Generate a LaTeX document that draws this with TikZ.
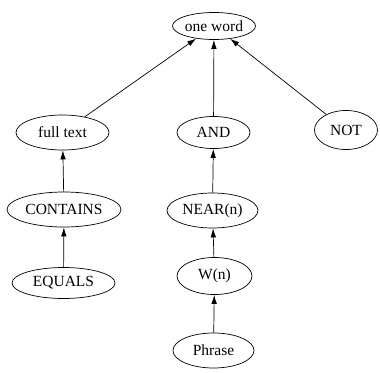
\documentclass[tikz,border=0pt]{standalone}
\usepackage{fontspec}
\setmainfont{Liberation Serif}
\usetikzlibrary{shapes.geometric,arrows.meta}
\begin{document}
\begin{tikzpicture}[x=1pt,y=1pt,
  ell/.style={draw,ellipse,inner sep=0pt,line width=0.7pt,font=\fontsize{15.5}{18}\selectfont},
  edge/.style={line width=0.7pt,-{Latex[length=9pt,width=5.5pt]}}]
\useasboundingbox (0,0) rectangle (380,-372);
\node[ell,minimum width=83pt,minimum height=27pt] (one) at (214,-26) {one word};
\node[ell,minimum width=93pt,minimum height=35pt] (full) at (62.5,-132.5) {full text};
\node[ell,minimum width=73pt,minimum height=32pt] (and) at (213.5,-132.5) {AND};
\node[ell,minimum width=63pt,minimum height=39pt] (not) at (346,-130) {NOT};
\node[ell,minimum width=114pt,minimum height=35pt] (contains) at (64,-209.5) {CONTAINS};
\node[ell,minimum width=91pt,minimum height=35pt] (near) at (212.5,-210.5) {NEAR(n)};
\node[ell,minimum width=103pt,minimum height=31pt] (equals) at (63.5,-283) {EQUALS};
\node[ell,minimum width=75pt,minimum height=37pt] (w) at (214.5,-276) {W(n)};
\node[ell,minimum width=81pt,minimum height=35pt] (phrase) at (213.5,-350.5) {Phrase};
\draw[edge] (full) -- (one);
\draw[edge] (and) -- (one);
\draw[edge] (not) -- (one);
\draw[edge] (contains) -- (full);
\draw[edge] (equals) -- (contains);
\draw[edge] (near) -- (and);
\draw[edge] (w) -- (near);
\draw[edge] (phrase) -- (w);
\end{tikzpicture}
\end{document}
